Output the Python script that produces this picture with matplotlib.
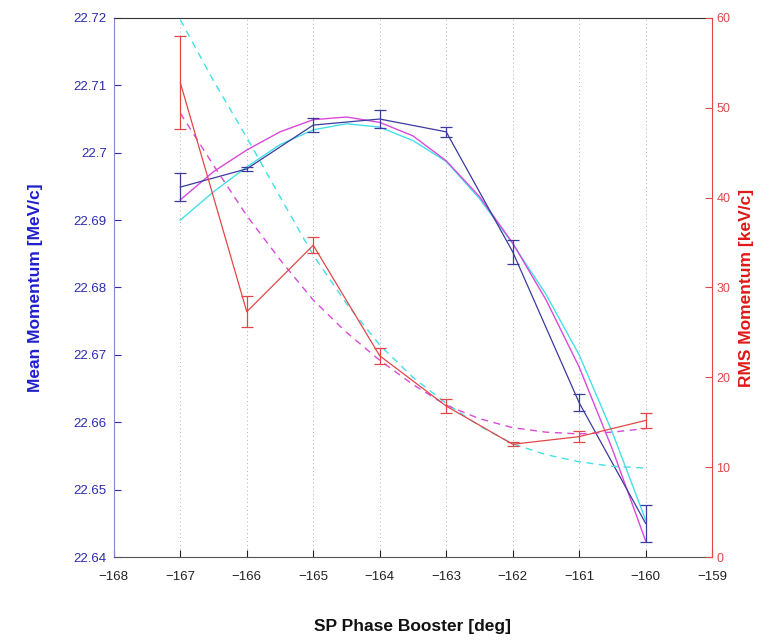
import matplotlib
matplotlib.use("Agg")
import matplotlib.pyplot as plt

plt.rcParams['font.family'] = ['Liberation Sans', 'DejaVu Sans']

# Measured data
phase = [-167, -166, -165, -164, -163, -162, -161, -160]
mean_mom = [22.6949, 22.6976, 22.7041, 22.7050, 22.7031, 22.6853, 22.6629, 22.6450]
mean_err = [0.0021, 0.0003, 0.0010, 0.0013, 0.0007, 0.0018, 0.0013, 0.0027]
rms_mom = [52.8, 27.3, 34.7, 22.4, 16.8, 12.55, 13.4, 15.2]
rms_err = [5.2, 1.7, 0.9, 0.9, 0.75, 0.2, 0.6, 0.8]

# Fit curves
fit_x = [-167, -166.5, -166, -165.5, -165, -164.5, -164, -163.5, -163,
         -162.5, -162, -161.5, -161, -160.5, -160]
mean_fit_cyan = [22.6900, 22.6942, 22.6979, 22.7012, 22.7034, 22.7043, 22.7038, 22.7018,
                 22.6987, 22.6932, 22.6865, 22.6790, 22.6700, 22.6585, 22.6455]
mean_fit_magenta = [22.6930, 22.6972, 22.7004, 22.7031, 22.7049, 22.7053, 22.7045, 22.7025,
                    22.6988, 22.6935, 22.6866, 22.6782, 22.6682, 22.6560, 22.6424]
rms_fit_cyan = [59.8, 53.0, 46.7, 40.1, 33.6, 28.2, 23.6, 20.0, 17.1, 14.6, 12.6, 11.4,
                10.6, 10.1, 9.9]
rms_fit_magenta = [49.4, 43.6, 38.0, 33.1, 28.6, 25.0, 21.9, 19.2, 16.9, 15.4, 14.4, 13.9,
                   13.7, 13.9, 14.3]

xticks = [-168, -167, -166, -165, -164, -163, -162, -161, -160, -159]
left_ticks = [22.64, 22.65, 22.66, 22.67, 22.68, 22.69, 22.70, 22.71, 22.72]
left_labels = ['22.64', '22.65', '22.66', '22.67', '22.68', '22.69', '22.7', '22.71', '22.72']
right_ticks = [0, 10, 20, 30, 40, 50, 60]

BLUE = '#3b3b9e'
RED = '#e04848'
CYAN = '#44e0e8'
MAGENTA = '#d84ad8'
LBLUE = '#2b2bb0'

fig = plt.figure(figsize=(7.69, 6.41), dpi=100)
ax = fig.add_axes([0.148, 0.131, 0.778, 0.841])
ax2 = ax.twinx()

ax.errorbar(phase, mean_mom, yerr=mean_err, color=BLUE, lw=0.9, capsize=4, capthick=0.9, zorder=3)
ax.plot(fit_x, mean_fit_cyan, color=CYAN, lw=1.0)
ax.plot(fit_x, mean_fit_magenta, color=MAGENTA, lw=1.0)

ax2.errorbar(phase, rms_mom, yerr=rms_err, color=RED, lw=0.9, capsize=4, capthick=0.9, zorder=3)
ax2.plot(fit_x, rms_fit_cyan, color=CYAN, lw=1.0, ls=(0, (5, 4)))
ax2.plot(fit_x, rms_fit_magenta, color=MAGENTA, lw=1.0, ls=(0, (5, 4)))

ax.set_xlim(-168, -159)
ax.set_ylim(22.64, 22.72)
ax2.set_ylim(0, 60)
ax.set_xticks(xticks)
ax.set_xticklabels([str(t).replace('-', '\u2212') for t in xticks])
ax.set_yticks(left_ticks)
ax.set_yticklabels(left_labels)
ax2.set_yticks(right_ticks)

ax.grid(True, axis='x', color='#b0b0b0', ls=(0, (1, 3)), lw=0.7)

ax.tick_params(axis='x', direction='in', length=5, labelsize=9.5, colors='#222222', pad=10)
ax.tick_params(axis='y', direction='in', length=5, labelsize=9.5, colors=LBLUE, pad=5)
ax2.tick_params(axis='y', direction='in', length=5, labelsize=9, colors=RED, pad=3)

ax.spines['top'].set_color('#333333')
ax.spines['bottom'].set_color('#555555')
ax.spines['left'].set_color('#8888cc')
ax2.spines['left'].set_visible(False)
ax2.spines['right'].set_color(RED)
ax2.spines['top'].set_visible(False)
ax2.spines['bottom'].set_visible(False)
ax.spines['right'].set_visible(False)

ax.set_ylabel('Mean Momentum [MeV/c]', color='#1f1fd0', fontsize=12.5, fontweight='bold', labelpad=22)
ax2.set_ylabel('RMS Momentum [keV/c]', color='#e01818', fontsize=12.5, fontweight='bold', labelpad=6)
ax.set_xlabel('SP Phase Booster [deg]', color='#111111', fontsize=12.5, fontweight='bold', labelpad=26)

fig.savefig('out.png', dpi=100, facecolor='white')
